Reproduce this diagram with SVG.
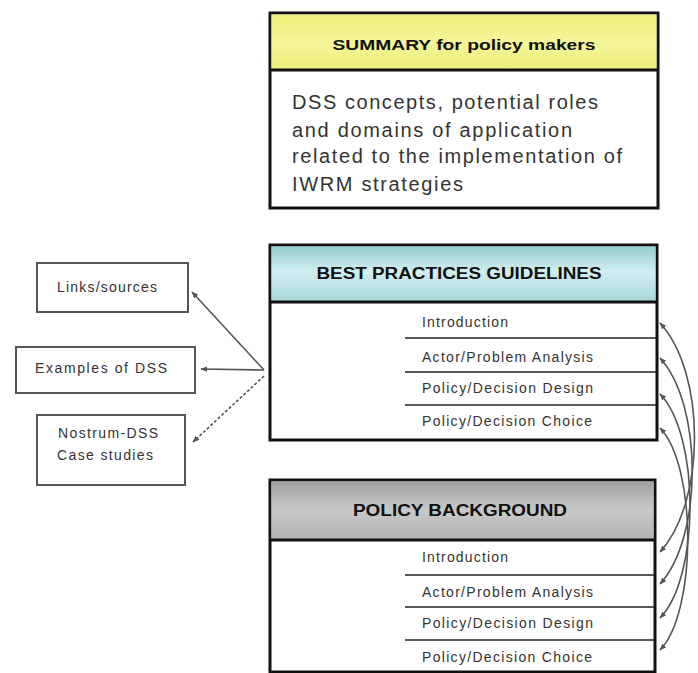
<svg xmlns="http://www.w3.org/2000/svg" width="698" height="673" viewBox="0 0 698 673">
<defs>
<linearGradient id="gYellow" x1="0" y1="0" x2="0" y2="1">
<stop offset="0" stop-color="#eef07a"/><stop offset="0.5" stop-color="#f6f69a"/><stop offset="1" stop-color="#ecec78"/>
</linearGradient>
<linearGradient id="gTeal" x1="0" y1="0" x2="0" y2="1">
<stop offset="0" stop-color="#93cdd0"/><stop offset="0.45" stop-color="#d2eef0"/><stop offset="1" stop-color="#a6d7da"/>
</linearGradient>
<linearGradient id="gGray" x1="0" y1="0" x2="0" y2="1">
<stop offset="0" stop-color="#a2a2a2"/><stop offset="0.5" stop-color="#c9c9c9"/><stop offset="1" stop-color="#b2b2b2"/>
</linearGradient>
<marker id="ah" viewBox="0 0 10 10" refX="9" refY="5" markerWidth="7" markerHeight="7" orient="auto-start-reverse" markerUnits="userSpaceOnUse">
<path d="M0,1 L10,5 L0,9 z" fill="#555"/>
</marker>
<style>
.frame{fill:#fff;stroke:#111;stroke-width:3}
.hline{stroke:#111;stroke-width:3}
.row{stroke:#222;stroke-width:1.6}
.hdr{font-family:"Liberation Sans",Arial,sans-serif;font-weight:bold;fill:#111}
.body{font-family:"Liberation Sans",Arial,sans-serif;font-size:20px;fill:#333}
.item{font-family:"Liberation Sans",Arial,sans-serif;font-size:14px;fill:#333}
.side{fill:#fff;stroke:#555;stroke-width:2}
.stxt{font-family:"Liberation Sans",Arial,sans-serif;font-size:14px;fill:#333}
.conn{fill:none;stroke:#555;stroke-width:1.6}
</style>
</defs>
<rect width="698" height="673" fill="#fff"/>

<g id="summary">
<rect class="frame" x="270" y="13" width="388" height="195"/>
<rect x="271.5" y="14.5" width="385" height="55.5" fill="url(#gYellow)"/>
<line class="hline" x1="270" y1="70" x2="658" y2="70"/>
<text class="hdr" x="464" y="50" font-size="14" text-anchor="middle" textLength="263" lengthAdjust="spacingAndGlyphs">SUMMARY for policy makers</text>
<text class="body" x="292" y="109" textLength="306" lengthAdjust="spacing">DSS concepts, potential roles</text>
<text class="body" x="292" y="137" textLength="280" lengthAdjust="spacing">and domains of application</text>
<text class="body" x="292" y="163" textLength="330" lengthAdjust="spacing">related to the implementation of</text>
<text class="body" x="292" y="191" textLength="171" lengthAdjust="spacing">IWRM strategies</text>
</g>

<g id="best-practices">
<rect class="frame" x="270" y="245" width="387" height="195"/>
<rect x="271.5" y="246.5" width="384" height="55.5" fill="url(#gTeal)"/>
<line class="hline" x1="270" y1="302" x2="657" y2="302"/>
<text class="hdr" x="459" y="279" font-size="16" text-anchor="middle" textLength="285" lengthAdjust="spacingAndGlyphs">BEST PRACTICES GUIDELINES</text>
<line class="row" x1="405" y1="338" x2="657" y2="338"/>
<line class="row" x1="405" y1="372" x2="657" y2="372"/>
<line class="row" x1="405" y1="405" x2="657" y2="405"/>
<text class="item" x="422" y="327" textLength="86" lengthAdjust="spacing">Introduction</text>
<text class="item" x="422" y="362" textLength="171" lengthAdjust="spacing">Actor/Problem Analysis</text>
<text class="item" x="422" y="393" textLength="171" lengthAdjust="spacing">Policy/Decision Design</text>
<text class="item" x="422" y="426" textLength="170" lengthAdjust="spacing">Policy/Decision Choice</text>
</g>

<g id="policy-background">
<rect class="frame" x="270" y="480" width="385" height="192"/>
<rect x="271.5" y="481.5" width="382" height="57.5" fill="url(#gGray)"/>
<line class="hline" x1="270" y1="540" x2="655" y2="540"/>
<text class="hdr" x="460" y="516" font-size="16" text-anchor="middle" textLength="214" lengthAdjust="spacingAndGlyphs">POLICY BACKGROUND</text>
<line class="row" x1="405" y1="575" x2="655" y2="575"/>
<line class="row" x1="405" y1="607" x2="655" y2="607"/>
<line class="row" x1="405" y1="640" x2="655" y2="640"/>
<text class="item" x="422" y="562" textLength="86" lengthAdjust="spacing">Introduction</text>
<text class="item" x="422" y="597" textLength="171" lengthAdjust="spacing">Actor/Problem Analysis</text>
<text class="item" x="422" y="628" textLength="171" lengthAdjust="spacing">Policy/Decision Design</text>
<text class="item" x="422" y="662" textLength="170" lengthAdjust="spacing">Policy/Decision Choice</text>
</g>

<g id="links-sources">
<rect class="side" x="37" y="263" width="151" height="49"/>
<text class="stxt" x="107" y="292" text-anchor="middle" textLength="100" lengthAdjust="spacing">Links/sources</text>
</g>
<g id="examples-dss">
<rect class="side" x="16" y="347" width="179" height="46"/>
<text class="stxt" x="101" y="373" text-anchor="middle" textLength="132" lengthAdjust="spacing">Examples of DSS</text>
</g>
<g id="nostrum-case-studies">
<rect class="side" x="37" y="415" width="148" height="70"/>
<text class="stxt" x="108" y="438" text-anchor="middle" textLength="100" lengthAdjust="spacing">Nostrum-DSS</text>
<text class="stxt" x="105" y="460" text-anchor="middle" textLength="96" lengthAdjust="spacing">Case studies</text>
</g>

<g id="connectors">
<line class="conn" x1="264" y1="370" x2="192" y2="292" marker-end="url(#ah)"/>
<line class="conn" x1="264" y1="370" x2="201" y2="369" marker-end="url(#ah)"/>
<line class="conn" x1="264" y1="376" x2="193" y2="442" stroke-dasharray="3,2" marker-end="url(#ah)"/>
<path class="conn" d="M660,323 C706,373 706,502 660,552" marker-start="url(#ah)" marker-end="url(#ah)"/>
<path class="conn" d="M660,358 C703,405 703,537 660,584" marker-start="url(#ah)" marker-end="url(#ah)"/>
<path class="conn" d="M660,394 C700,435 700,577 660,618" marker-start="url(#ah)" marker-end="url(#ah)"/>
<path class="conn" d="M660,428 C697,466 697,612 660,650" marker-start="url(#ah)" marker-end="url(#ah)"/>
</g>
</svg>
